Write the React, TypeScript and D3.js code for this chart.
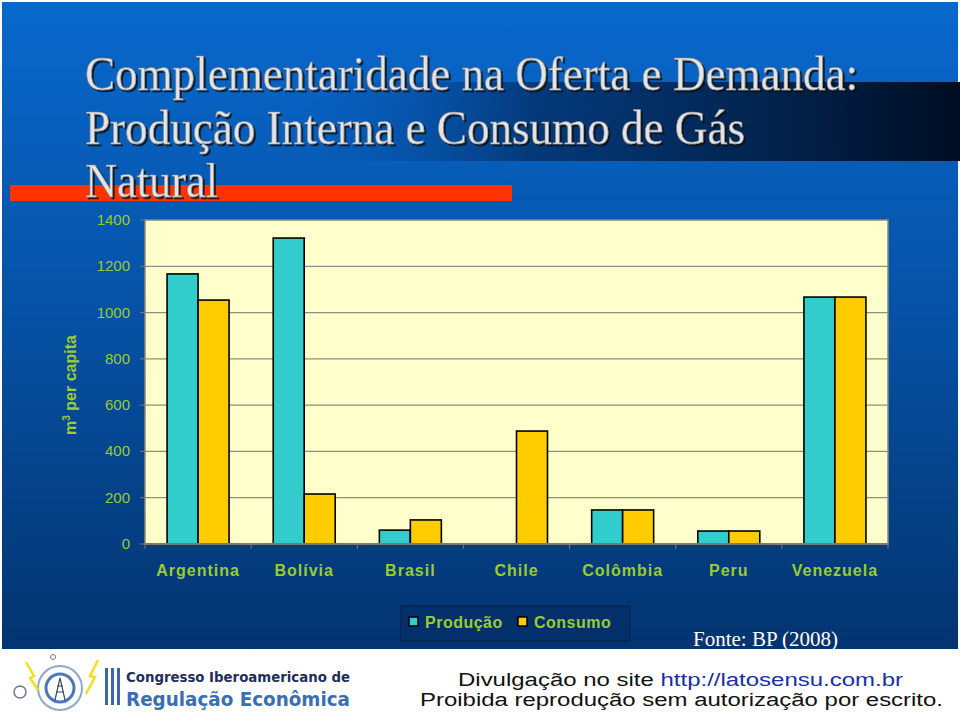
import React from 'react';
import * as d3 from 'd3';

const categories = ['Argentina', 'Bolívia', 'Brasil', 'Chile', 'Colômbia', 'Peru', 'Venezuela'];
const seriesNames = ['Produção', 'Consumo'];
const producao = [1167, 1322, 60, 0, 147, 56, 1067];
const consumo = [1054, 216, 104, 488, 147, 56, 1067];
const yTicks = [0, 200, 400, 600, 800, 1000, 1200, 1400];
const titleLines = ['Complementaridade na Oferta e Demanda:', 'Produção Interna e Consumo de Gás', 'Natural'];

const W = 960;
const H = 720;
const plot = { left: 145, right: 888, top: 220, bottom: 544 };
const green = '#99cc33';
const colors = ['#33cccc', '#ffcc00'];

export default function App() {
  const x0 = d3.scaleBand<string>().domain(categories).range([plot.left, plot.right]).padding(0);
  const groupW = 62;
  const x1 = d3.scaleBand<string>().domain(seriesNames).range([0, groupW]).padding(0);
  const y = d3.scaleLinear().domain([0, 1400]).range([plot.bottom, plot.top]);
  const values = [producao, consumo];
  const off = (x0.bandwidth() - groupW) / 2;

  const titleWidths = [773, 660, 133];

  return (
    <svg width={W} height={H} style={{ position: 'absolute', left: 0, top: 0 }}>
      <defs>
        <linearGradient id="bg" x1="0" y1="0" x2="0" y2="1">
          <stop offset="0" stopColor="#0868cc" />
          <stop offset="0.45" stopColor="#0653a8" />
          <stop offset="1" stopColor="#033470" />
        </linearGradient>
        <linearGradient id="band" x1="0" y1="0" x2="1" y2="0">
          <stop offset="0" stopColor="#0650a8" stopOpacity="0" />
          <stop offset="0.35" stopColor="#03306a" stopOpacity="0.8" />
          <stop offset="1" stopColor="#000d22" stopOpacity="1" />
        </linearGradient>
        <filter id="shadow" x="-5%" y="-20%" width="110%" height="150%">
          <feDropShadow dx={2} dy={2} stdDeviation={0.6} floodColor="#111" floodOpacity={0.8} />
        </filter>
      </defs>
      <rect x={0} y={0} width={W} height={H} fill="#ffffff" />
      <rect x={2} y={2} width={W - 4} height={647} fill="url(#bg)" />
      <rect x={300} y={82} width={660} height={79} fill="url(#band)" />
      <rect x={10} y={185} width={502} height={16} fill="#ff3300" />

      {titleLines.map((t, i) => (
        <text key={t} x={85} y={90 + i * 53.5} fill="#e4e4e4" stroke="#8a8a8a" strokeWidth={0.6}
          fontFamily="'Liberation Serif', 'Times New Roman', serif" fontSize={48} filter="url(#shadow)"
          textLength={titleWidths[i]} lengthAdjust="spacingAndGlyphs">{t}</text>
      ))}

      {/* plot area */}
      <rect x={plot.left} y={plot.top} width={plot.right - plot.left} height={plot.bottom - plot.top} fill="#ffffcc" stroke="#8a8a7a" strokeWidth={1.5} />
      {yTicks.filter(v => v > 0 && v < 1400).map(v => (
        <line key={v} x1={plot.left} x2={plot.right} y1={y(v)} y2={y(v)} stroke="#8f8f7f" strokeWidth={1.2} />
      ))}
      {yTicks.map(v => (
        <g key={'t' + v}>
          <line x1={plot.left - 5} x2={plot.left} y1={y(v)} y2={y(v)} stroke="#7a7a7a" />
          <text x={130} y={y(v) + 5} textAnchor="end" fill={green} fontFamily="'Liberation Sans', Arial, sans-serif" fontSize={15}>{v}</text>
        </g>
      ))}

      {categories.map((c, i) => (
        <g key={c} transform={`translate(${(x0(c) ?? 0) + off},0)`}>
          {seriesNames.map((s, j) => {
            const v = values[j][i];
            if (v <= 0) return null;
            return (
              <rect key={s} x={x1(s) ?? 0} y={y(v)} width={x1.bandwidth()} height={y(0) - y(v)}
                fill={colors[j]} stroke="#000" strokeWidth={1.6} />
            );
          })}
        </g>
      ))}

      <line x1={plot.left} x2={plot.right} y1={plot.bottom} y2={plot.bottom} stroke="#7a7a7a" strokeWidth={2} />
      {categories.concat(['']).map((c, i) => {
        const xx = plot.left + i * x0.step();
        return <line key={'xt' + i} x1={xx} x2={xx} y1={plot.bottom} y2={plot.bottom + 5} stroke="#7a7a7a" />;
      })}
      {categories.map(c => (
        <text key={'l' + c} x={(x0(c) ?? 0) + x0.bandwidth() / 2} y={576} textAnchor="middle" fill={green}
          fontFamily="'Liberation Sans', Arial, sans-serif" fontWeight="bold" fontSize={16} letterSpacing={1}>{c}</text>
      ))}

      <text transform="translate(76,385) rotate(-90)" textAnchor="middle" fill={green}
        fontFamily="'Liberation Sans', Arial, sans-serif" fontWeight="bold" fontSize={16}>
        m<tspan dy={-6} fontSize={10}>3</tspan><tspan dy={6}> per capita</tspan>
      </text>

      {/* legend */}
      <rect x={401} y={606} width={229} height={35} fill="#03306a" stroke="#022048" strokeWidth={1} />
      {seriesNames.map((s, j) => {
        const lx = j === 0 ? 409 : 518;
        return (
          <g key={'lg' + s}>
            <rect x={lx} y={617} width={9} height={9} fill={colors[j]} stroke="#000" strokeWidth={1.5} />
            <text x={lx + 16} y={628} fill={green} fontFamily="'Liberation Sans', Arial, sans-serif" fontWeight="bold" fontSize={16} letterSpacing={0.5}>{s}</text>
          </g>
        );
      })}
      <text x={693} y={646} fill="#ffffff" fontFamily="'Liberation Serif', 'Times New Roman', serif" fontSize={21}>Fonte: BP (2008)</text>

      {/* footer */}
      <g>
        <circle cx={60} cy={688} r={22} fill="none" stroke="#8fa8c8" strokeWidth={2} />
        <circle cx={60} cy={688} r={14} fill="none" stroke="#4a78b8" strokeWidth={3} />
        <circle cx={20} cy={692} r={6} fill="#ffffff" stroke="#6a7a9a" strokeWidth={1.5} />
        <circle cx={53} cy={657} r={2.5} fill="#ffffff" stroke="#6a7a9a" strokeWidth={1} />
        <path d="M26,662 L34,676 L30,678 L38,690" fill="none" stroke="#f0e020" strokeWidth={2.5} />
        <path d="M98,660 L90,676 L95,677 L86,694" fill="none" stroke="#f0e020" strokeWidth={2.5} />
        <path d="M55,700 L60,678 L65,700 M56,692 L64,692 M57,686 L63,686" fill="none" stroke="#3a4a6a" strokeWidth={1.2} />
        <rect x={105} y={668} width={3} height={37} fill="#3a66aa" />
        <rect x={111} y={668} width={3} height={37} fill="#3a66aa" />
        <rect x={117} y={668} width={3} height={37} fill="#3a66aa" />
        <text x={126} y={682} fill="#1e2e5a" fontFamily="'DejaVu Sans Condensed', 'Liberation Sans Narrow', sans-serif" fontWeight="bold" fontSize={14} textLength={224} lengthAdjust="spacingAndGlyphs">Congresso Iberoamericano de</text>
        <text x={126} y={706} fill="#3a6eb4" fontFamily="'DejaVu Sans Condensed', 'Liberation Sans Narrow', sans-serif" fontWeight="bold" fontSize={20} textLength={224} lengthAdjust="spacingAndGlyphs">Regulação Econômica</text>
        <text x={458} y={686} fill="#111" fontFamily="'Liberation Sans', Arial, sans-serif" fontSize={18} textLength={445} lengthAdjust="spacingAndGlyphs">
          Divulgação no site <tspan fill="#1a2fa8">http://latosensu.com.br</tspan>
        </text>
        <text x={420} y={706} fill="#111" fontFamily="'Liberation Sans', Arial, sans-serif" fontSize={18} textLength={523} lengthAdjust="spacingAndGlyphs">Proibida reprodução sem autorização por escrito.</text>
      </g>
    </svg>
  );
}
